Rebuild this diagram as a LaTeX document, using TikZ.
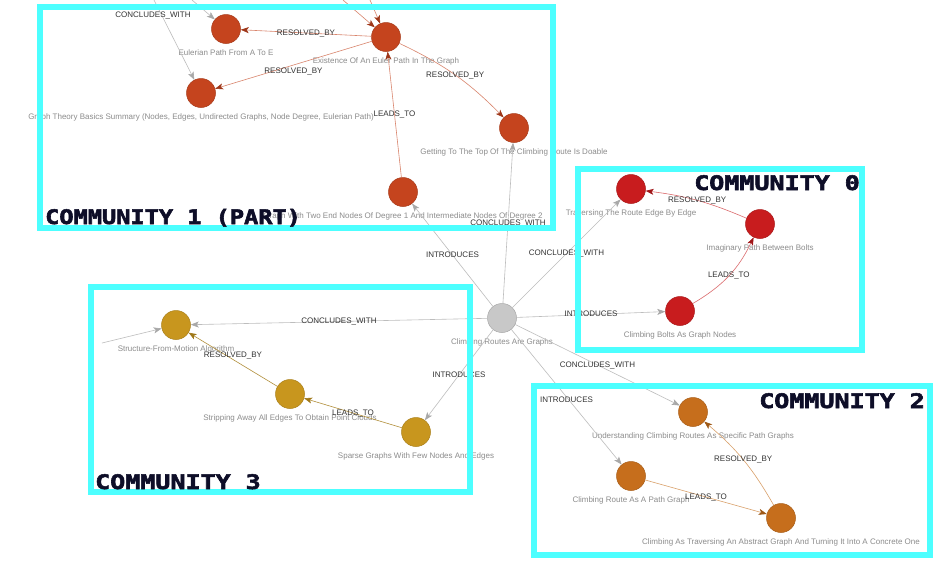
\documentclass[tikz,border=0pt]{standalone}
\usepackage{fontspec}
\usepackage{graphicx}
\setmainfont{Liberation Sans}
\newfontfamily\commfont[FakeBold=2.5]{DejaVu Sans Mono Bold}
\usetikzlibrary{arrows.meta}
\definecolor{cyanbox}{HTML}{4DFFFF}
\definecolor{cA}{HTML}{C5441E}
\definecolor{cB}{HTML}{C81C1E}
\definecolor{cC}{HTML}{C8961E}
\definecolor{cD}{HTML}{C66E1C}
\definecolor{cG}{HTML}{C8C8C8}
\definecolor{elabc}{HTML}{333333}
\definecolor{nlabc}{HTML}{8C8C8C}
\definecolor{commc}{HTML}{0E0E28}
\definecolor{gline}{HTML}{BDBDBD}
\definecolor{gtip}{HTML}{A8A8A8}
\begin{document}
\begin{tikzpicture}[x=1pt,y=-1pt,
  gnode/.style={circle, minimum size=29pt, inner sep=0pt, line width=0.5pt},
  nA/.style={gnode, fill=cA, draw=cA!85!black},
  nB/.style={gnode, fill=cB, draw=cB!85!black},
  nC/.style={gnode, fill=cC, draw=cC!85!black},
  nD/.style={gnode, fill=cD, draw=cD!85!black},
  nG/.style={gnode, fill=cG, draw=gtip},
  nlab/.style={font=\fontsize{8}{9}\selectfont, text=nlabc, inner sep=0pt, text height=6pt, text depth=1.7pt, anchor=center, label distance=9.5pt},
  elab/.style={font=\fontsize{8}{9}\selectfont, text=elabc, inner sep=0pt, text height=6pt, text depth=1.7pt},
  gedge/.style={draw=gline, line width=0.6pt, -{Stealth[length=8pt,width=6pt,inset=2pt,color=gtip]}},
  eA/.style={draw=cA!65!white, line width=0.6pt, -{Stealth[length=8pt,width=6pt,inset=2pt,color=cA!80!black]}},
  eB/.style={draw=cB!65!white, line width=0.6pt, -{Stealth[length=8pt,width=6pt,inset=2pt,color=cB!80!black]}},
  eC/.style={draw=cC!70!gray, line width=0.6pt, -{Stealth[length=8pt,width=6pt,inset=2pt,color=cC!80!black]}},
  eD/.style={draw=cD!65!white, line width=0.6pt, -{Stealth[length=8pt,width=6pt,inset=2pt,color=cD!80!black]}},
  cbox/.style={draw=cyanbox, line width=6pt},
  commlab/.style={font=\commfont\fontsize{20}{20}\selectfont, text=commc, inner sep=0pt}
]
\useasboundingbox (0,0) rectangle (946,566);
\fill[white] (0,0) rectangle (946,566);

% nodes
\node[nA, label={[nlab]below:Eulerian Path From A To E}] (euler) at (226,29) {};
\node[nA, label={[nlab]below:Existence Of An Euler Path In The Graph}] (exist) at (386,37) {};
\node[nA, label={[nlab]below:Graph Theory Basics Summary (Nodes, Edges, Undirected Graphs, Node Degree, Eulerian Path)}] (gtb) at (201,93) {};
\node[nA, label={[nlab]below:Getting To The Top Of The Climbing Route Is Doable}] (top) at (514,128) {};
\node[nA, label={[nlab]below:Graph With Two End Nodes Of Degree 1 And Intermediate Nodes Of Degree 2}] (gtwo) at (403,192) {};
\node[nG, label={[nlab]below:Climbing Routes Are Graphs}] (crg) at (502,318) {};
\node[nB, label={[nlab]below:Traversing The Route Edge By Edge}] (trav) at (631,189) {};
\node[nB, label={[nlab]below:Imaginary Path Between Bolts}] (imag) at (760,224) {};
\node[nB, label={[nlab]below:Climbing Bolts As Graph Nodes}] (bolts) at (680,311) {};
\node[nC, label={[nlab]below:Structure-From-Motion Algorithm}] (sfm) at (176,325) {};
\node[nC, label={[nlab]below:Stripping Away All Edges To Obtain Point Clouds}] (strip) at (290,394) {};
\node[nC, label={[nlab]below:Sparse Graphs With Few Nodes And Edges}] (sparse) at (416,432) {};
\node[nD, label={[nlab]below:Understanding Climbing Routes As Specific Path Graphs}] (under) at (693,412) {};
\node[nD, label={[nlab]below:Climbing Route As A Path Graph}] (crpath) at (631,476) {};
\node[nD, label={[nlab]below:Climbing As Traversing An Abstract Graph And Turning It Into A Concrete One}] (cat) at (781,518) {};

% free ends
\coordinate (t1) at (154,0);
\coordinate (t2) at (192,0);
\coordinate (t3) at (343,0);
\coordinate (t4) at (370,0);
\coordinate (l1) at (102,343);

% edges
\draw[gedge] (t1) -- (gtb);
\draw[gedge] (t2) -- (euler);
\draw[eA] (t3) -- (exist);
\draw[eA] (t4) -- (exist);
\draw[gedge] (l1) -- (sfm);
\node[elab] (cwtop) at (153,15) {CONCLUDES\_WITH};

\draw[eA] (exist) -- node[elab] {RESOLVED\_BY} (euler);
\draw[eA] (exist) -- node[elab, yshift=-6pt] {RESOLVED\_BY} (gtb);
\draw[eA] (exist) to[bend left=10] node[elab] {RESOLVED\_BY} (top);
\draw[eA] (gtwo) -- node[elab] {LEADS\_TO} (exist);
\draw[gedge] (crg) -- node[elab] {CONCLUDES\_WITH} (top);
\draw[gedge] (crg) -- node[elab] {INTRODUCES} (gtwo);
\draw[gedge] (crg) -- node[elab] {CONCLUDES\_WITH} (trav);
\draw[gedge] (crg) -- node[elab] {INTRODUCES} (bolts);
\draw[eB] (bolts) to[bend right=17] node[elab] {LEADS\_TO} (imag);
\draw[eB] (imag) to[bend right=8] node[elab] {RESOLVED\_BY} (trav);
\draw[gedge] (crg) -- node[elab] {CONCLUDES\_WITH} (sfm);
\draw[eC] (strip) -- node[elab, yshift=4pt] {RESOLVED\_BY} (sfm);
\draw[eC] (sparse) -- node[elab] {LEADS\_TO} (strip);
\draw[gedge] (crg) -- node[elab] {INTRODUCES} (sparse);
\draw[gedge] (crg) -- node[elab] {CONCLUDES\_WITH} (under);
\draw[gedge] (crg) -- node[elab, yshift=-3pt] {INTRODUCES} (crpath);
\draw[eD] (crpath) -- node[elab] {LEADS\_TO} (cat);
\draw[eD] (cat) to[bend right=10] node[elab] {RESOLVED\_BY} (under);

% community boxes
\draw[cbox] (40,6.5) rectangle (553,228);
\draw[cbox] (578,169) rectangle (861.5,350);
\draw[cbox] (90.5,286.5) rectangle (470,492);
\draw[cbox] (534,385.5) rectangle (930,554.5);

% community labels
\node[commlab, anchor=base west] (c1lab) at (45,224) {\scalebox{1.18}[1]{COMMUNITY 1 (PART)}};
\node[commlab, anchor=base east] (c0lab) at (860,190) {\scalebox{1.25}[1]{COMMUNITY 0}};
\node[commlab, anchor=base west] (c3lab) at (95,489) {\scalebox{1.25}[1]{COMMUNITY 3}};
\node[commlab, anchor=base east] (c2lab) at (925,408) {\scalebox{1.25}[1]{COMMUNITY 2}};
\end{tikzpicture}
\end{document}
